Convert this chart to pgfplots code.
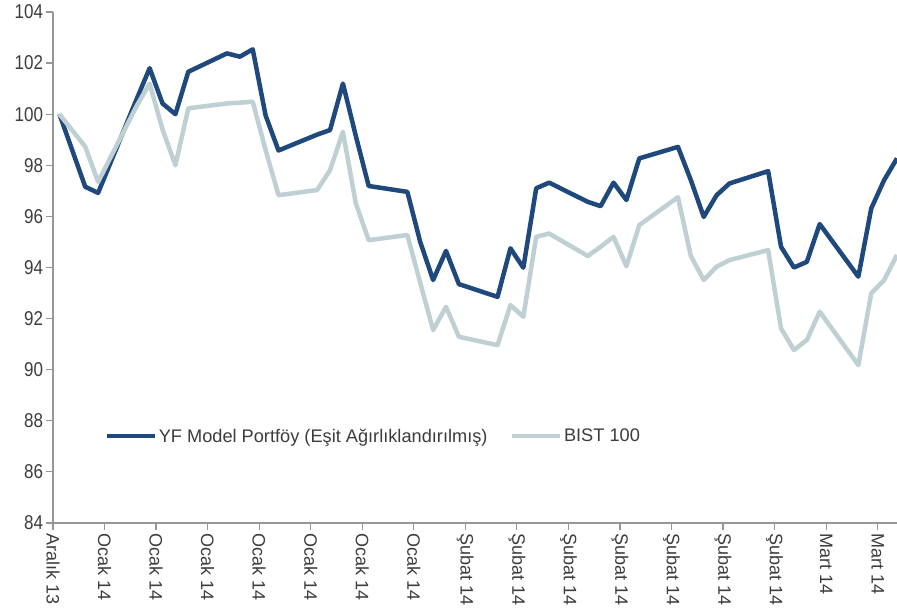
\documentclass[border=0pt]{standalone}
\usepackage{fontspec}
\setmainfont{Liberation Sans}
\usepackage{pgfplots}
\pgfplotsset{compat=1.18}
\usetikzlibrary{calc}
\definecolor{yfblue}{RGB}{31,73,125}
\definecolor{bistgray}{RGB}{190,208,211}
\definecolor{axgray}{RGB}{150,150,150}
\definecolor{txt}{RGB}{60,60,60}
\begin{document}
\begin{tikzpicture}
\begin{axis}[
  scale only axis, width=844pt, height=511pt,
  xmin=-0.5, xmax=65, ymin=84, ymax=104,
  axis x line*=bottom, axis y line*=left,
  axis line style={axgray, line width=1.2pt, -},
  xtick={-0.5,3.5,...,63.5},
  xticklabels={Aralık 13,Ocak 14,Ocak 14,Ocak 14,Ocak 14,Ocak 14,Ocak 14,Ocak 14,Şubat 14,Şubat 14,Şubat 14,Şubat 14,Şubat 14,Şubat 14,Şubat 14,Mart 14,Mart 14},
  ytick={84,86,...,104},
  tick align=outside, major tick length=7pt,
  tick style={axgray, line width=1.2pt},
  y tick label style={font=\fontsize{20}{20}\selectfont, xscale=0.85, text=txt},
  x tick label style={font=\fontsize{18}{18}\selectfont, rotate=-90, anchor=west, text=txt},
  /pgf/number format/assume math mode=true,
  legend columns=2,
  legend style={at={(0.057,0.17)}, anchor=west, draw=none, fill=none,
    font=\fontsize{18.2}{18.2}\selectfont, text=txt,
    /tikz/every even column/.append style={column sep=20pt},
    cells={anchor=west}},
  legend image code/.code={\draw[#1] (0pt,0pt) -- (48pt,0pt);},
]
\addplot[yfblue, line width=4.5pt, line join=round] table {
x y
0 100.0
2 97.16
3 96.92
6 100.6
7 101.8
8 100.42
9 100.0
10 101.66
13 102.38
14 102.25
15 102.54
16 99.95
17 98.58
20 99.2
21 99.38
22 101.2
23 99.15
24 97.19
27 96.96
28 95.0
29 93.51
30 94.65
31 93.35
34 92.85
35 94.75
36 93.99
37 97.1
38 97.32
41 96.57
42 96.4
43 97.32
44 96.64
45 98.27
48 98.72
49 97.42
50 95.98
51 96.83
52 97.29
55 97.77
56 94.81
57 94.0
58 94.22
59 95.7
62 93.64
63 96.31
64 97.42
65 98.27
};
\addlegendentry{YF Model Portföy (Eşit Ağırlıklandırılmış)}
\addplot[bistgray, line width=4.5pt, line join=round] table {
x y
0 100.0
2 98.73
3 97.35
6 100.33
7 101.2
8 99.4
9 98.0
10 100.23
13 100.42
14 100.45
15 100.49
16 98.6
17 96.83
20 97.03
21 97.81
22 99.31
23 96.51
24 95.07
27 95.27
28 93.4
29 91.55
30 92.46
31 91.29
34 90.96
35 92.53
36 92.07
37 95.2
38 95.33
41 94.45
42 94.81
43 95.2
44 94.05
45 95.66
48 96.75
49 94.45
50 93.51
51 94.03
52 94.29
55 94.68
56 91.62
57 90.77
58 91.16
59 92.27
62 90.18
63 92.99
64 93.51
65 94.49
};
\addlegendentry{BIST 100}
\end{axis}
\pgfresetboundingbox
\path ($(current axis.south west)+(-53pt,-91pt)$) rectangle ($(current axis.north east)+(0pt,12pt)$);
\end{tikzpicture}
\end{document}
